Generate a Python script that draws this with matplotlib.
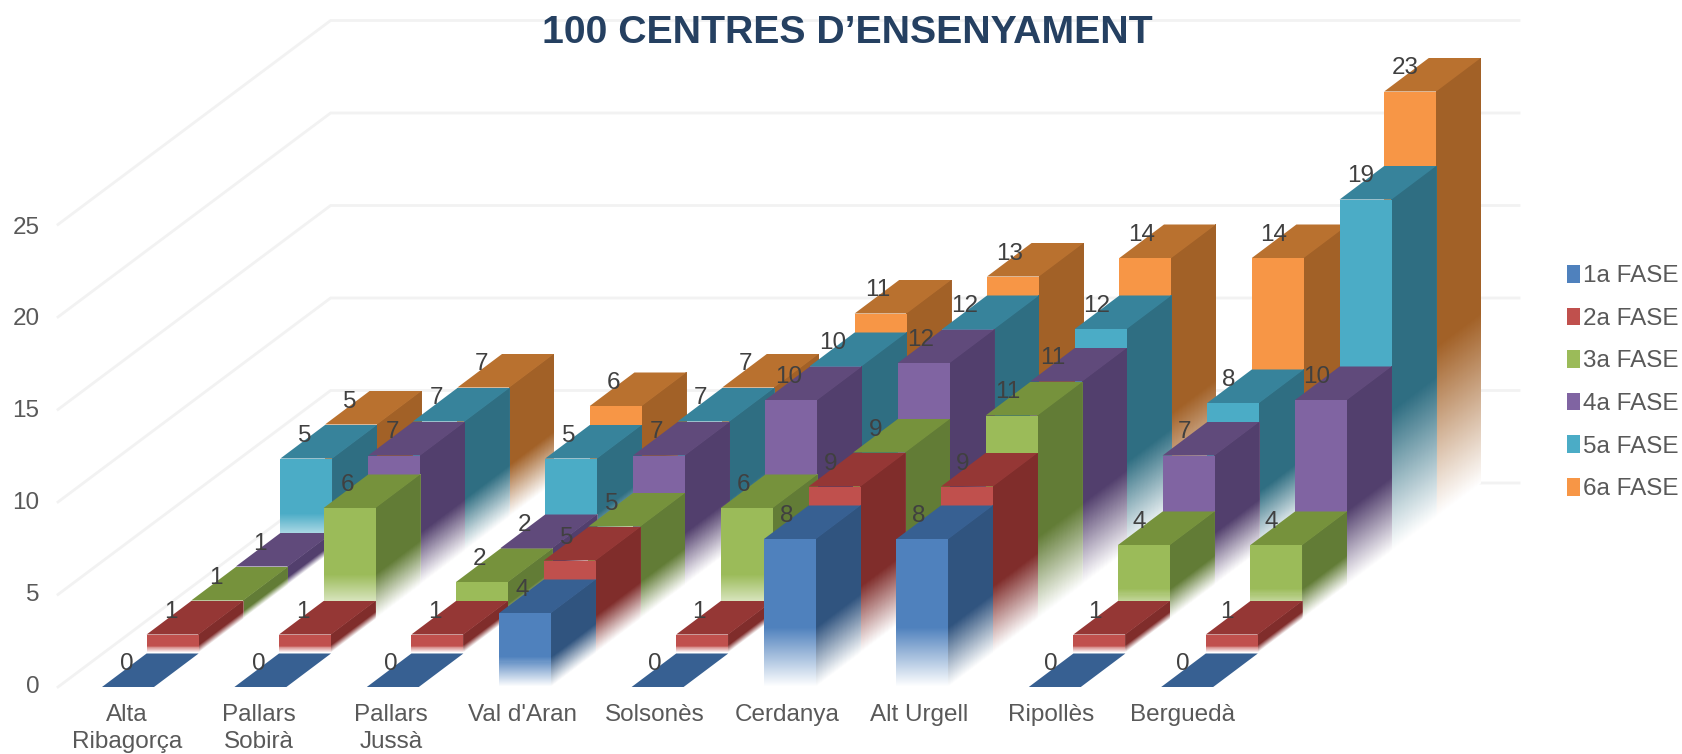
import matplotlib
matplotlib.use("Agg")
import matplotlib.pyplot as plt
import numpy as np
from matplotlib.collections import PolyCollection
from matplotlib.patches import Patch, Polygon

plt.rcParams["font.family"] = ["Liberation Sans", "DejaVu Sans"]

categories = ["Alta\nRibagorça", "Pallars\nSobirà", "Pallars\nJussà", "Val d'Aran", "Solsonès",
              "Cerdanya", "Alt Urgell", "Ripollès", "Berguedà"]
series_names = ["1a FASE", "2a FASE", "3a FASE", "4a FASE", "5a FASE", "6a FASE"]
fase1 = [0, 0, 0, 4, 0, 8, 8, 0, 0]
fase2 = [1, 1, 1, 5, 1, 9, 9, 1, 1]
fase3 = [1, 6, 2, 5, 6, 9, 11, 4, 4]
fase4 = [1, 7, 2, 7, 10, 12, 11, 7, 10]
fase5 = [5, 7, 5, 7, 10, 12, 12, 8, 19]
fase6 = [5, 7, 6, 7, 11, 13, 14, 14, 23]
y_ticks = [0, 5, 10, 15, 20, 25]

# front, top and side colours per series
front_cols = ["#4f81bd", "#c0504d", "#9bbb59", "#8064a2", "#4bacc6", "#f79646"]
top_cols = ["#376092", "#953735", "#76923c", "#604a7b", "#37839b", "#b9712f"]
side_cols = ["#30547f", "#802d2b", "#627c36", "#523f6d", "#2f6e82", "#a26127"]

# oblique projection, all in pixels of the 1683x754 figure
BASE_Y = 687
PER_UNIT = 18.5
CAT_STEP = 132.4
SER_DX = 44.6
SER_DY = 34.0
BAR_W = 52
BAR_DX = 44.6
BAR_DY = 33.5
X_LEFT = 102
WALL_X0 = 58
WALL_X1 = 1519
FADE = 0.4
FONT = 17.5


def project(cat, ser, val):
    return X_LEFT + cat * CAT_STEP + ser * SER_DX, BASE_Y - ser * SER_DY - val * PER_UNIT


def faded_face(ax, x0, y0, x1, y1, height, color, z):
    # face going up from the edge (x0,y0)-(x1,y1), white at the foot
    # every strip runs to the top of the face so that no seams show
    rgb = np.array(matplotlib.colors.to_rgb(color))
    n = max(8, int(height * FADE))
    polys, cols = [], []
    for i in range(n + 1):
        a = FADE * i / n
        polys.append([(x0, y0 - a * height), (x1, y1 - a * height),
                      (x1, y1 - height), (x0, y0 - height)])
        t = a / FADE
        cols.append(rgb * t + (1 - t))
    ax.add_collection(PolyCollection(polys, facecolors=cols, edgecolors="none", zorder=z))


fig = plt.figure(figsize=(16.83, 7.54), dpi=100)
ax = fig.add_axes([0, 0, 1, 1])
ax.set_xlim(0, 1683)
ax.set_ylim(754, 0)
ax.axis("off")

# walls
wall_dx = 6 * SER_DX + 5
wall_dy = 6 * SER_DY
for v in y_ticks:
    y = BASE_Y - v * PER_UNIT
    ax.plot([WALL_X0, WALL_X0 + wall_dx, WALL_X1], [y, y - wall_dy, y - wall_dy],
            color="#f2f2f2", lw=2, zorder=1, solid_joinstyle="miter")
    ax.text(39.5, BASE_Y - v * 18.38, str(v), ha="right", va="center", fontsize=FONT, color="#595959")

all_series = [fase1, fase2, fase3, fase4, fase5, fase6]
z = 2
labels = []
for s in range(5, -1, -1):
    for c, v in enumerate(all_series[s]):
        x, y_top = project(c, s, v)
        _, y_base = project(c, s, 0)
        h = v * PER_UNIT
        if v > 0:
            faded_face(ax, x + BAR_W, y_base, x + BAR_W + BAR_DX, y_base - BAR_DY, h, side_cols[s], z)
            faded_face(ax, x, y_base, x + BAR_W, y_base, h, front_cols[s], z + 0.1)
        ax.add_patch(Polygon([(x, y_top), (x + BAR_W, y_top), (x + BAR_W + BAR_DX, y_top - BAR_DY),
                              (x + BAR_DX, y_top - BAR_DY)], closed=True, facecolor=top_cols[s],
                             edgecolor="none", zorder=z + 0.2))
        labels.append((x + 24.5 - c * 0.4, y_top - 23, v))
    z += 1

for lx, ly, v in labels:
    ax.text(lx, ly, str(v), ha="center", va="center", fontsize=FONT, color="#404040", zorder=20)

for c, name in enumerate(categories):
    ax.text(127 + c * 132, 704, name, ha="center", va="top", fontsize=FONT, color="#595959",
            linespacing=1.27, clip_on=True)

ax.text(847, 33, "100 CENTRES D\u2019ENSENYAMENT", ha="center", va="center", fontsize=28.3,
        fontweight="bold", color="#254061", zorder=30)

handles = [Patch(facecolor=col, edgecolor="none") for col in front_cols]
ax.legend(handles, series_names, loc="upper left", bbox_to_anchor=(1567 / 1683, 1 - 265 / 754),
          frameon=False, fontsize=FONT, labelcolor="#595959", handlelength=0.54, handleheight=0.75,
          handletextpad=0.1, labelspacing=0.83, borderpad=0, borderaxespad=0)

fig.savefig("out.png", dpi=100)
